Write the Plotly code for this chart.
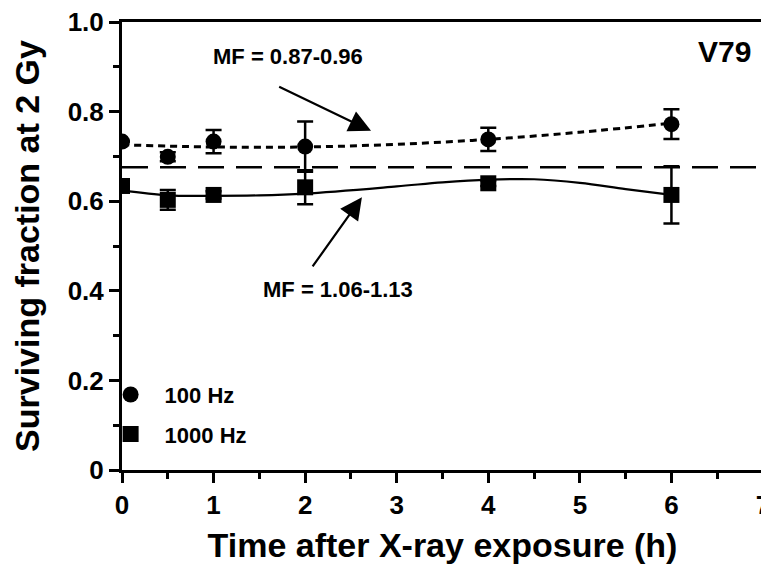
import plotly.graph_objects as go

# Measured data
time_h = [0, 0.5, 1, 2, 4, 6]
sf_100 = [0.733, 0.699, 0.733, 0.722, 0.738, 0.772]
err_100 = [0.0, 0.010, 0.026, 0.056, 0.026, 0.033]
sf_1000 = [0.634, 0.603, 0.614, 0.631, 0.640, 0.614]
err_1000 = [0.0, 0.022, 0.008, 0.038, 0.006, 0.064]

# Fitted curves
fit_x_100 = [0, 0.5, 1, 2, 3, 4, 5, 6]
fit_y_100 = [0.726, 0.723, 0.721, 0.721, 0.727, 0.738, 0.754, 0.774]
fit_x_1000 = [0, 0.5, 1, 1.5, 2, 3, 3.5, 4, 4.5, 5, 5.5, 6]
fit_y_1000 = [0.624, 0.613, 0.612, 0.613, 0.617, 0.633, 0.642, 0.648, 0.649, 0.641, 0.627, 0.614]

ref_x = [0, 7]
ref_y = [0.676, 0.676]

x_ticks = [0, 1, 2, 3, 4, 5, 6, 7]
y_ticks = [0, 0.2, 0.4, 0.6, 0.8, 1.0]
y_tick_labels = ["0", "0.2", "0.4", "0.6", "0.8", "1.0"]

FONT = "Liberation Sans, Arial, sans-serif"

fig = go.Figure()

fig.add_trace(go.Scatter(x=ref_x, y=ref_y, mode="lines",
                         line=dict(color="black", width=2.5, dash="26px,12px"),
                         showlegend=False, hoverinfo="skip"))
fig.add_trace(go.Scatter(x=fit_x_100, y=fit_y_100, mode="lines", line_shape="spline",
                         line=dict(color="black", width=3, dash="7px,5px"),
                         showlegend=False, hoverinfo="skip"))
fig.add_trace(go.Scatter(x=fit_x_1000, y=fit_y_1000, mode="lines", line_shape="spline",
                         line=dict(color="black", width=2.2),
                         showlegend=False, hoverinfo="skip"))

fig.add_trace(go.Scatter(x=time_h, y=sf_100, mode="markers", name="<b>100 Hz</b>",
                         legendgroup="a",
                         marker=dict(symbol="circle", size=16, color="black"),
                         error_y=dict(type="data", array=err_100, color="black",
                                      thickness=2.5, width=8)))
fig.add_trace(go.Scatter(x=time_h, y=sf_1000, mode="markers", name="<b>1000 Hz</b>",
                         legendgroup="b",
                         marker=dict(symbol="square", size=16, color="black"),
                         error_y=dict(type="data", array=err_1000, color="black",
                                      thickness=2.5, width=8)))

fig.add_annotation(x=2.72, y=0.757, ax=1.70, ay=0.857, xref="x", yref="y",
                   axref="x", ayref="y", showarrow=True, arrowhead=2,
                   arrowsize=2, arrowwidth=2.2, arrowcolor="black", text="")
fig.add_annotation(x=1.81, y=0.922, xref="x", yref="y", showarrow=False,
                   text="<b>MF = 0.87-0.96</b>", font=dict(size=22, color="black", family=FONT))
fig.add_annotation(x=2.62, y=0.609, ax=2.07, ay=0.451, xref="x", yref="y",
                   axref="x", ayref="y", showarrow=True, arrowhead=2,
                   arrowsize=2, arrowwidth=2.2, arrowcolor="black", text="")
fig.add_annotation(x=2.36, y=0.402, xref="x", yref="y", showarrow=False,
                   text="<b>MF = 1.06-1.13</b>", font=dict(size=22, color="black", family=FONT))
fig.add_annotation(x=6.58, y=0.935, xref="x", yref="y", showarrow=False,
                   text="<b>V79</b>", font=dict(size=30, color="black", family=FONT))

axis_common = dict(showline=True, linecolor="black", linewidth=3, mirror=True,
                   ticks="outside", tickwidth=2.5, ticklen=10, tickcolor="black",
                   showgrid=False, zeroline=False, automargin=False,
                   ticklabeloverflow="allow",
                   tickfont=dict(size=26, color="black", family=FONT))

fig.update_xaxes(range=[0, 7], tickvals=x_ticks, ticktext=[f"<b>{v}</b>" for v in x_ticks],
                 minor=dict(ticks="outside", dtick=0.5, ticklen=6, tickwidth=2.5, tickcolor="black"),
                 title=dict(text="<b>Time after X-ray exposure (h)</b>",
                            font=dict(size=34, color="black", family=FONT), standoff=14),
                 **axis_common)
fig.update_yaxes(range=[0, 1.0], tickvals=y_ticks,
                 ticktext=[f"<b>{t}</b>" for t in y_tick_labels],
                 minor=dict(ticks="outside", dtick=0.1, ticklen=6, tickwidth=2.5, tickcolor="black"),
                 title=dict(text="<b>Surviving fraction at 2 Gy</b>",
                            font=dict(size=34, color="black", family=FONT), standoff=18),
                 **axis_common)

fig.update_layout(
    width=761, height=570,
    margin=dict(l=114, r=6, t=14, b=108),
    plot_bgcolor="white", paper_bgcolor="white",
    legend=dict(x=-0.0396, y=0.215, xanchor="left", yanchor="top",
                font=dict(size=22, color="black", family=FONT),
                bgcolor="rgba(0,0,0,0)", tracegroupgap=8, itemwidth=58),
    font=dict(family=FONT, color="black"),
)

fig.write_html("out.html")
